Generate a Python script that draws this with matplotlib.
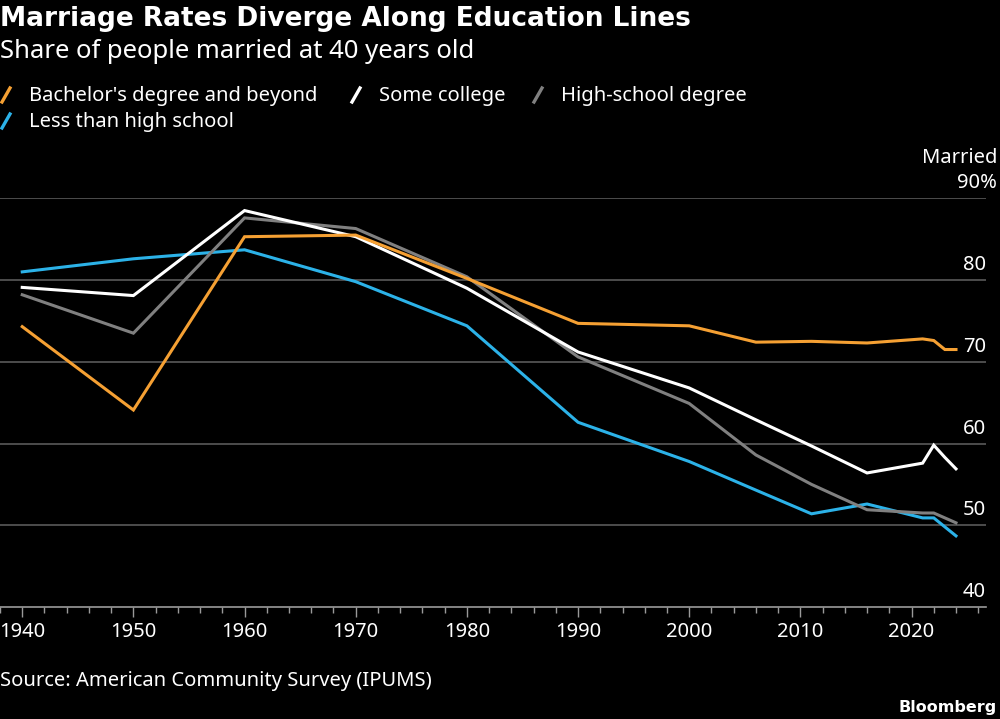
import matplotlib
matplotlib.use("Agg")
import matplotlib.pyplot as plt
from matplotlib.lines import Line2D
from matplotlib.ticker import MultipleLocator

plt.rcParams['font.family'] = ['Noto Sans', 'DejaVu Sans']

years = [1940, 1950, 1960, 1970, 1980, 1990, 2000, 2006, 2011, 2016, 2021, 2022, 2023, 2024]
bachelor = [74.3, 64.1, 85.3, 85.5, 80.2, 74.7, 74.4, 72.4, 72.5, 72.3, 72.8, 72.6, 71.5, 71.5]
some_college = [79.1, 78.1, 88.5, 85.3, 79.0, 71.2, 66.8, 62.9, 59.7, 56.4, 57.6, 59.8, 58.3, 56.9]
high_school = [78.2, 73.5, 87.6, 86.3, 80.4, 70.6, 64.9, 58.6, 55.0, 51.9, 51.5, 51.5, 50.9, 50.3]
less_hs = [81.0, 82.6, 83.7, 79.8, 74.4, 62.6, 57.8, 54.3, 51.4, 52.6, 50.9, 50.9, 49.8, 48.7]

series = [
  ("Bachelor's degree and beyond", bachelor, "#f5a033"),
  ("Some college", some_college, "#ffffff"),
  ("High-school degree", high_school, "#808080"),
  ("Less than high school", less_hs, "#2cb2e8"),
]
yticks = [40, 50, 60, 70, 80, 90]
xticks = list(range(1940, 2021, 10))

W, H = 1000, 719
fig = plt.figure(figsize=(W / 100, H / 100), dpi=100, facecolor="black")
ax = fig.add_axes([0.0, 1 - 607 / H, 0.986, (607 - 198.3) / H])
ax.set_facecolor("black")

# draw in reverse so bachelor's sits on top
for label, vals, color in series[::-1]:
  ax.plot(years, vals, color=color, lw=2.2, solid_joinstyle="miter", zorder=3)

ax.set_xlim(1938.0, 2026.7)
ax.set_ylim(40, 90)
for v in yticks[1:]:
  ax.axhline(v, color="#5a5a5a", lw=1.2, zorder=1)
for v in yticks:
  # top value carries the % sign and pokes out past the gridlines
  txt = f"{v}%" if v == yticks[-1] else str(v)
  ax.annotate(txt, xy=(1.0, v), xycoords=ax.get_yaxis_transform(),
              xytext=(11 if v == yticks[-1] else 0, 10), textcoords="offset pixels",
              ha="right", va="baseline", color="white", fontsize=14.5)
ax.annotate("Married", xy=(1.0, yticks[-1]), xycoords=ax.get_yaxis_transform(),
            xytext=(11, 35), textcoords="offset pixels",
            ha="right", va="baseline", color="white", fontsize=14.5)

for s in ["top", "right", "left"]:
  ax.spines[s].set_visible(False)
ax.spines["bottom"].set_color("#9a9a9a")
ax.spines["bottom"].set_linewidth(1.2)
ax.set_yticks([])
ax.set_xticks(xticks)
ax.xaxis.set_minor_locator(MultipleLocator(2))
ax.tick_params(axis="x", which="major", length=7, width=1, color="#9a9a9a",
               labelcolor="white", labelsize=14.5, pad=4)
ax.tick_params(axis="x", which="minor", length=4.5, width=1, color="#9a9a9a")

# title block
fig.text(0.0, 1 - 26.5 / H, "Marriage Rates Diverge Along Education Lines", color="white",
         fontsize=19, fontweight="bold", family="DejaVu Sans", ha="left", va="baseline")
fig.text(0.0, 1 - 58 / H, "Share of people married at 40 years old", color="white",
         fontsize=18.5, ha="left", va="baseline")

# legend with slash markers
legend_pos = [(2, 101), (352, 101), (534, 101), (2, 127)]
for (label, vals, color), (px, py) in zip(series, legend_pos):
  fig.add_artist(Line2D([px / W, (px + 8) / W], [1 - (py + 1) / H, 1 - (py - 13) / H],
                        color=color, lw=2.4, transform=fig.transFigure))
  fig.text((px + 27) / W, 1 - py / H, label, color="white", fontsize=14.5,
           ha="left", va="baseline")

fig.text(0.0, 1 - 686 / H, "Source: American Community Survey (IPUMS)", color="white",
         fontsize=14.5, ha="left", va="baseline")
fig.text(0.997, 1 - 712 / H, "Bloomberg", color="white", fontsize=11.5,
         fontweight="bold", family="DejaVu Sans", ha="right", va="baseline")

fig.savefig("out.png", dpi=100, facecolor="black")
